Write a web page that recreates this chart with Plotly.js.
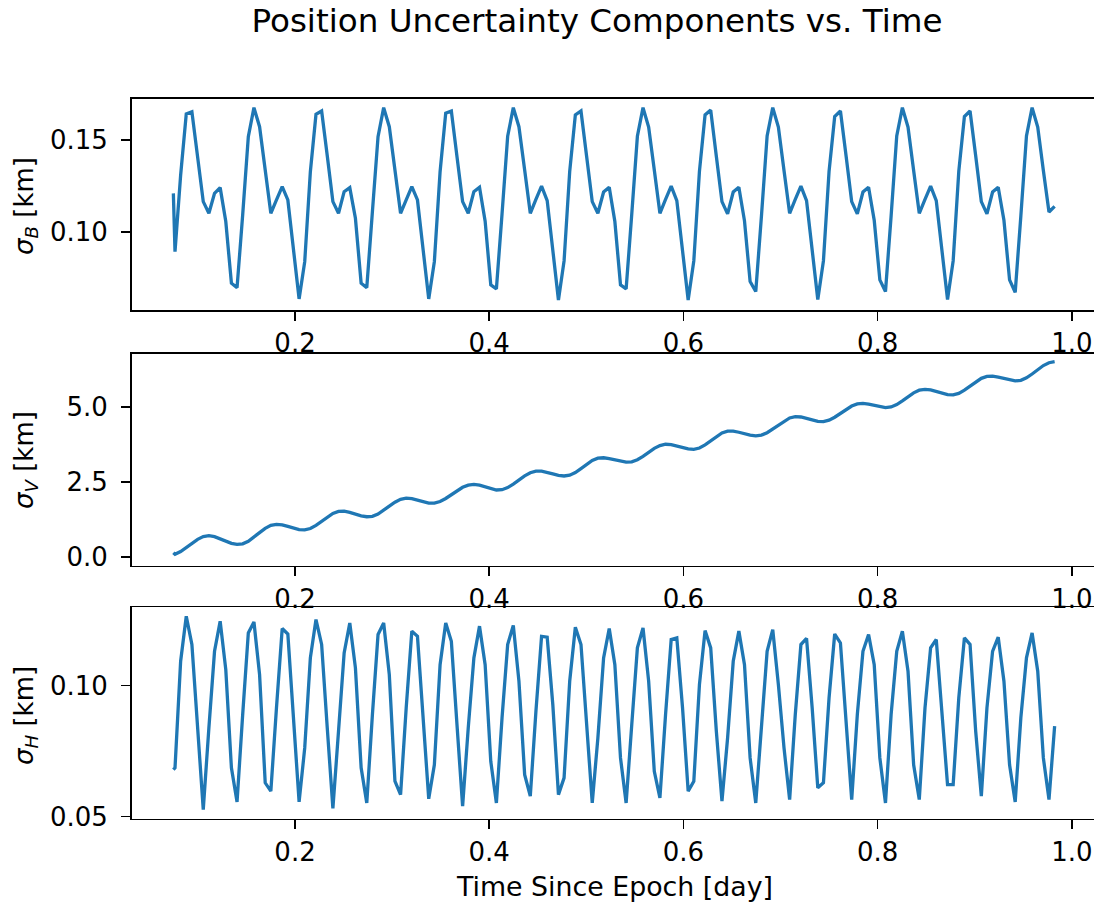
<!DOCTYPE html>
<html>
<head>
<meta charset="utf-8">
<script src="https://cdn.plot.ly/plotly-3.0.1.min.js"></script>
<style>
  html, body { margin: 0; padding: 0; overflow: hidden; background: #fff; }
  #chart { width: 1100px; height: 905px; }
</style>
</head>
<body>
<div id="chart"></div>
<script>
// Time since epoch [day] of each covariance sample
const TIME = [
  0.0747,
  0.0764, 0.0822, 0.0880, 0.0938, 0.0997, 0.1055, 0.1113, 0.1171, 0.1229, 0.1287,
  0.1345, 0.1403, 0.1461, 0.1519, 0.1577, 0.1635, 0.1693, 0.1751, 0.1809, 0.1868,
  0.1926, 0.1984, 0.2042, 0.2100, 0.2158, 0.2216, 0.2274, 0.2332, 0.2390, 0.2448,
  0.2506, 0.2564, 0.2622, 0.2681, 0.2739, 0.2797, 0.2855, 0.2913, 0.2971, 0.3029,
  0.3087, 0.3145, 0.3203, 0.3261, 0.3319, 0.3377, 0.3435, 0.3494, 0.3552, 0.3610,
  0.3668, 0.3726, 0.3784, 0.3842, 0.3900, 0.3958, 0.4016, 0.4074, 0.4132, 0.4190,
  0.4248, 0.4306, 0.4365, 0.4423, 0.4481, 0.4539, 0.4597, 0.4655, 0.4713, 0.4771,
  0.4829, 0.4887, 0.4945, 0.5003, 0.5061, 0.5119, 0.5178, 0.5236, 0.5294, 0.5352,
  0.5410, 0.5468, 0.5526, 0.5584, 0.5642, 0.5700, 0.5758, 0.5816, 0.5874, 0.5932,
  0.5991, 0.6049, 0.6107, 0.6165, 0.6223, 0.6281, 0.6339, 0.6397, 0.6455, 0.6513,
  0.6571, 0.6629, 0.6687, 0.6745, 0.6804, 0.6862, 0.6920, 0.6978, 0.7036, 0.7094,
  0.7152, 0.7210, 0.7268, 0.7326, 0.7384, 0.7442, 0.7500, 0.7558, 0.7617, 0.7675,
  0.7733, 0.7791, 0.7849, 0.7907, 0.7965, 0.8023, 0.8081, 0.8139, 0.8197, 0.8255,
  0.8313, 0.8371, 0.8429, 0.8488, 0.8546, 0.8604, 0.8662, 0.8720, 0.8778, 0.8836,
  0.8894, 0.8952, 0.9010, 0.9068, 0.9126, 0.9184, 0.9242, 0.9301, 0.9359, 0.9417,
  0.9475, 0.9533, 0.9591, 0.9649, 0.9707, 0.9765, 0.9823
];

// 1-sigma position uncertainty along B [km]
const SIGMA_B = [
  0.1211, 0.0895, 0.1310,
  0.1641, 0.1653, 0.1410, 0.1166, 0.1103, 0.1211, 0.1242, 0.1058, 0.0724, 0.0700, 0.1094, 0.1518,
  0.1675, 0.1572, 0.1337, 0.1103, 0.1175, 0.1247, 0.1175, 0.0913, 0.0639, 0.0841, 0.1328,
  0.1639, 0.1657, 0.1415, 0.1166, 0.1103, 0.1220, 0.1242, 0.1076, 0.0724, 0.0700, 0.1112, 0.1518,
  0.1675, 0.1572, 0.1337, 0.1103, 0.1175, 0.1247, 0.1175, 0.0913, 0.0639, 0.0841, 0.1328,
  0.1645, 0.1657, 0.1410, 0.1166, 0.1103, 0.1220, 0.1244, 0.1060, 0.0715, 0.0693, 0.1100, 0.1520,
  0.1675, 0.1572, 0.1337, 0.1103, 0.1178, 0.1250, 0.1172, 0.0910, 0.0633, 0.0845, 0.1330,
  0.1636, 0.1657, 0.1412, 0.1166, 0.1103, 0.1218, 0.1244, 0.1058, 0.0715, 0.0693, 0.1098, 0.1520,
  0.1675, 0.1570, 0.1337, 0.1103, 0.1178, 0.1250, 0.1172, 0.0910, 0.0633, 0.0845, 0.1330,
  0.1636, 0.1662, 0.1412, 0.1166, 0.1100, 0.1218, 0.1244, 0.1062, 0.0733, 0.0679, 0.1090, 0.1522,
  0.1675, 0.1570, 0.1335, 0.1103, 0.1178, 0.1250, 0.1172, 0.0910, 0.0636, 0.0845, 0.1330,
  0.1627, 0.1657, 0.1415, 0.1166, 0.1100, 0.1218, 0.1244, 0.1065, 0.0742, 0.0679, 0.1088, 0.1522,
  0.1675, 0.1570, 0.1335, 0.1103, 0.1178, 0.1250, 0.1172, 0.0910, 0.0636, 0.0845, 0.1330,
  0.1627, 0.1657, 0.1415, 0.1166, 0.1100, 0.1218, 0.1244, 0.1065, 0.0742, 0.0675, 0.1088, 0.1522,
  0.1675, 0.1570, 0.1335, 0.1110, 0.1140
];

// 1-sigma position uncertainty along V [km]
const SIGMA_V = [
  0.13, 0.08, 0.17, 0.30, 0.45, 0.58, 0.67, 0.70, 0.670, 0.603,
  0.518, 0.446, 0.411, 0.431, 0.516, 0.647, 0.803, 0.943, 1.043, 1.080,
  1.061, 1.010, 0.948, 0.901, 0.892, 0.940, 1.046, 1.182, 1.325, 1.442,
  1.509, 1.516, 1.480, 1.420, 1.362, 1.332, 1.347, 1.423, 1.542, 1.685,
  1.817, 1.912, 1.950, 1.933, 1.883, 1.825, 1.786, 1.786, 1.840, 1.941,
  2.067, 2.200, 2.313, 2.387, 2.410, 2.383, 2.322, 2.259, 2.223, 2.234,
  2.303, 2.421, 2.558, 2.692, 2.799, 2.854, 2.854, 2.818, 2.763, 2.714,
  2.690, 2.716, 2.803, 2.934, 3.081, 3.207, 3.285, 3.298, 3.272, 3.226,
  3.180, 3.152, 3.162, 3.232, 3.344, 3.482, 3.611, 3.706, 3.749, 3.738,
  3.695, 3.639, 3.594, 3.580, 3.622, 3.725, 3.863, 4.005, 4.123, 4.184,
  4.184, 4.149, 4.098, 4.052, 4.030, 4.053, 4.133, 4.256, 4.395, 4.525,
  4.625, 4.668, 4.657, 4.611, 4.552, 4.509, 4.504, 4.552, 4.650, 4.779,
  4.911, 5.023, 5.094, 5.108, 5.085, 5.038, 4.993, 4.971, 4.991, 5.071,
  5.194, 5.333, 5.462, 5.550, 5.580, 5.559, 5.506, 5.445, 5.400, 5.393,
  5.445, 5.551, 5.688, 5.832, 5.946, 6.012, 6.016, 5.984, 5.933, 5.886,
  5.861, 5.880, 5.962, 6.090, 6.238, 6.372, 6.466, 6.500
];

// 1-sigma position uncertainty along H [km]
const SIGMA_H = [
  0.0679, 0.0686, 0.1093, 0.1265, 0.1157, 0.0839, 0.0527, 0.0839, 0.1131, 0.1246,
  0.1061, 0.0686, 0.0556, 0.0889, 0.1201, 0.1243, 0.1042, 0.0629, 0.0597, 0.0915,
  0.1218, 0.1197, 0.0877, 0.0556, 0.0762, 0.1106, 0.1252, 0.1157, 0.0839, 0.0531,
  0.0826, 0.1125, 0.1239, 0.1068, 0.0686, 0.0552, 0.0889, 0.1195, 0.1239, 0.1042,
  0.0635, 0.0584, 0.0915, 0.1208, 0.1188, 0.0877, 0.0568, 0.0698, 0.1080, 0.1239,
  0.1169, 0.0851, 0.0540, 0.0839, 0.1106, 0.1227, 0.1080, 0.0711, 0.0552, 0.0877,
  0.1157, 0.1230, 0.1017, 0.0660, 0.0578, 0.0902, 0.1188, 0.1185, 0.0927, 0.0584,
  0.0648, 0.1017, 0.1223, 0.1157, 0.0839, 0.0552, 0.0800, 0.1106, 0.1218, 0.1080,
  0.0724, 0.0552, 0.0851, 0.1144, 0.1220, 0.1017, 0.0673, 0.0571, 0.0889, 0.1176,
  0.1182, 0.0915, 0.0597, 0.0635, 0.1004, 0.1210, 0.1144, 0.0826, 0.0559, 0.0800,
  0.1093, 0.1208, 0.1080, 0.0724, 0.0552, 0.0851, 0.1131, 0.1214, 0.1004, 0.0762,
  0.0565, 0.0889, 0.1157, 0.1180, 0.0915, 0.0610, 0.0629, 0.0953, 0.1197, 0.1163,
  0.0851, 0.0565, 0.0889, 0.1131, 0.1195, 0.1080, 0.0724, 0.0552, 0.0889, 0.1131,
  0.1208, 0.1055, 0.0698, 0.0565, 0.0915, 0.1144, 0.1176, 0.0915, 0.0622, 0.0622,
  0.0953, 0.1182, 0.1157, 0.0826, 0.0578, 0.0915, 0.1131, 0.1185, 0.1017, 0.0698,
  0.0556, 0.0877, 0.1106, 0.1201, 0.1055, 0.0724, 0.0565, 0.0845
];

// Tick values and labels
const X_TICKS = [0.2, 0.4, 0.6, 0.8, 1.0];
const X_TICK_LABELS = ['0.2', '0.4', '0.6', '0.8', '1.0'];
const B_TICKS = [0.10, 0.15];
const B_TICK_LABELS = ['0.10', '0.15'];
const V_TICKS = [0.0, 2.5, 5.0];
const V_TICK_LABELS = ['0.0', '2.5', '5.0'];
const H_TICKS = [0.05, 0.10];
const H_TICK_LABELS = ['0.05', '0.10'];

const W = 1100, H = 905;
const FONT = 'DejaVu Sans, Verdana, sans-serif';
const LINE_BLUE = '#1f77b4';

// panel frames in page pixels: [top, bottom]
const PANELS = [[99, 310], [354, 565.7], [607.3, 818.7]];
const LEFT_PX = 131.7, RIGHT_PX = 1099;
const yDomain = p => [1 - p[1] / H, 1 - p[0] / H];

function xAxis(anchor) {
  return {
    anchor: anchor,
    domain: [LEFT_PX / W, RIGHT_PX / W],
    range: [0.0318, 1.028],
    tickmode: 'array', tickvals: X_TICKS, ticktext: X_TICK_LABELS,
    ticks: 'outside', ticklen: 9, tickwidth: 1.6, tickcolor: '#000',
    showline: true, linewidth: 1.6, linecolor: '#000', mirror: true,
    showgrid: false, zeroline: false,
    tickfont: { family: FONT, size: 26, color: '#000' }
  };
}
function yAxis(anchor, domain, range, vals, labels) {
  return {
    anchor: anchor, domain: domain, range: range,
    tickmode: 'array', tickvals: vals, ticktext: labels,
    ticks: 'outside', ticklen: 9, tickwidth: 1.6, tickcolor: '#000',
    showline: true, linewidth: 1.6, linecolor: '#000', mirror: true,
    showgrid: false, zeroline: false,
    ticklabelstandoff: 8,
    tickfont: { family: FONT, size: 26, color: '#000' }
  };
}

const lineStyle = { color: LINE_BLUE, width: 3.3 };
const traces = [
  { x: TIME, y: SIGMA_B, xaxis: 'x', yaxis: 'y', mode: 'lines', line: lineStyle, hoverinfo: 'skip' },
  { x: TIME, y: SIGMA_V, xaxis: 'x2', yaxis: 'y2', mode: 'lines', line: lineStyle, hoverinfo: 'skip' },
  { x: TIME, y: SIGMA_H, xaxis: 'x3', yaxis: 'y3', mode: 'lines', line: lineStyle, hoverinfo: 'skip' }
];

function yLabel(sub, centerPx) {
  return {
    text: '<i>σ</i><sub><i>' + sub + '</i></sub> [km]',
    xref: 'paper', yref: 'paper', x: 25 / W, y: 1 - centerPx / H,
    xanchor: 'center', yanchor: 'middle', textangle: -90, showarrow: false,
    font: { family: FONT, size: 26, color: '#000' }
  };
}

const layout = {
  width: W, height: H,
  margin: { l: 0, r: 0, t: 0, b: 0 },
  paper_bgcolor: '#fff', plot_bgcolor: '#fff',
  showlegend: false,
  title: {
    text: 'Position Uncertainty Components vs. Time',
    font: { family: FONT, size: 32.6, color: '#000' },
    xref: 'paper', x: 597 / W, xanchor: 'center',
    yref: 'container', y: 1 - 21 / H, yanchor: 'middle'
  },
  xaxis: xAxis('y'),
  xaxis2: xAxis('y2'),
  xaxis3: xAxis('y3'),
  yaxis: yAxis('x', yDomain(PANELS[0]), [0.0579, 0.1722], B_TICKS, B_TICK_LABELS),
  yaxis2: yAxis('x2', yDomain(PANELS[1]), [-0.30, 6.757], V_TICKS, V_TICK_LABELS),
  yaxis3: yAxis('x3', yDomain(PANELS[2]), [0.0492, 0.1299], H_TICKS, H_TICK_LABELS),
  annotations: [
    yLabel('B', 206),
    yLabel('V', 460),
    yLabel('H', 716),
    {
      text: 'Time Since Epoch [day]',
      xref: 'paper', yref: 'paper', x: 614 / W, y: 1 - 886 / H,
      xanchor: 'center', yanchor: 'middle', showarrow: false,
      font: { family: FONT, size: 26.8, color: '#000' }
    }
  ]
};

Plotly.newPlot('chart', traces, layout, { staticPlot: true, displayModeBar: false });
</script>
</body>
</html>
